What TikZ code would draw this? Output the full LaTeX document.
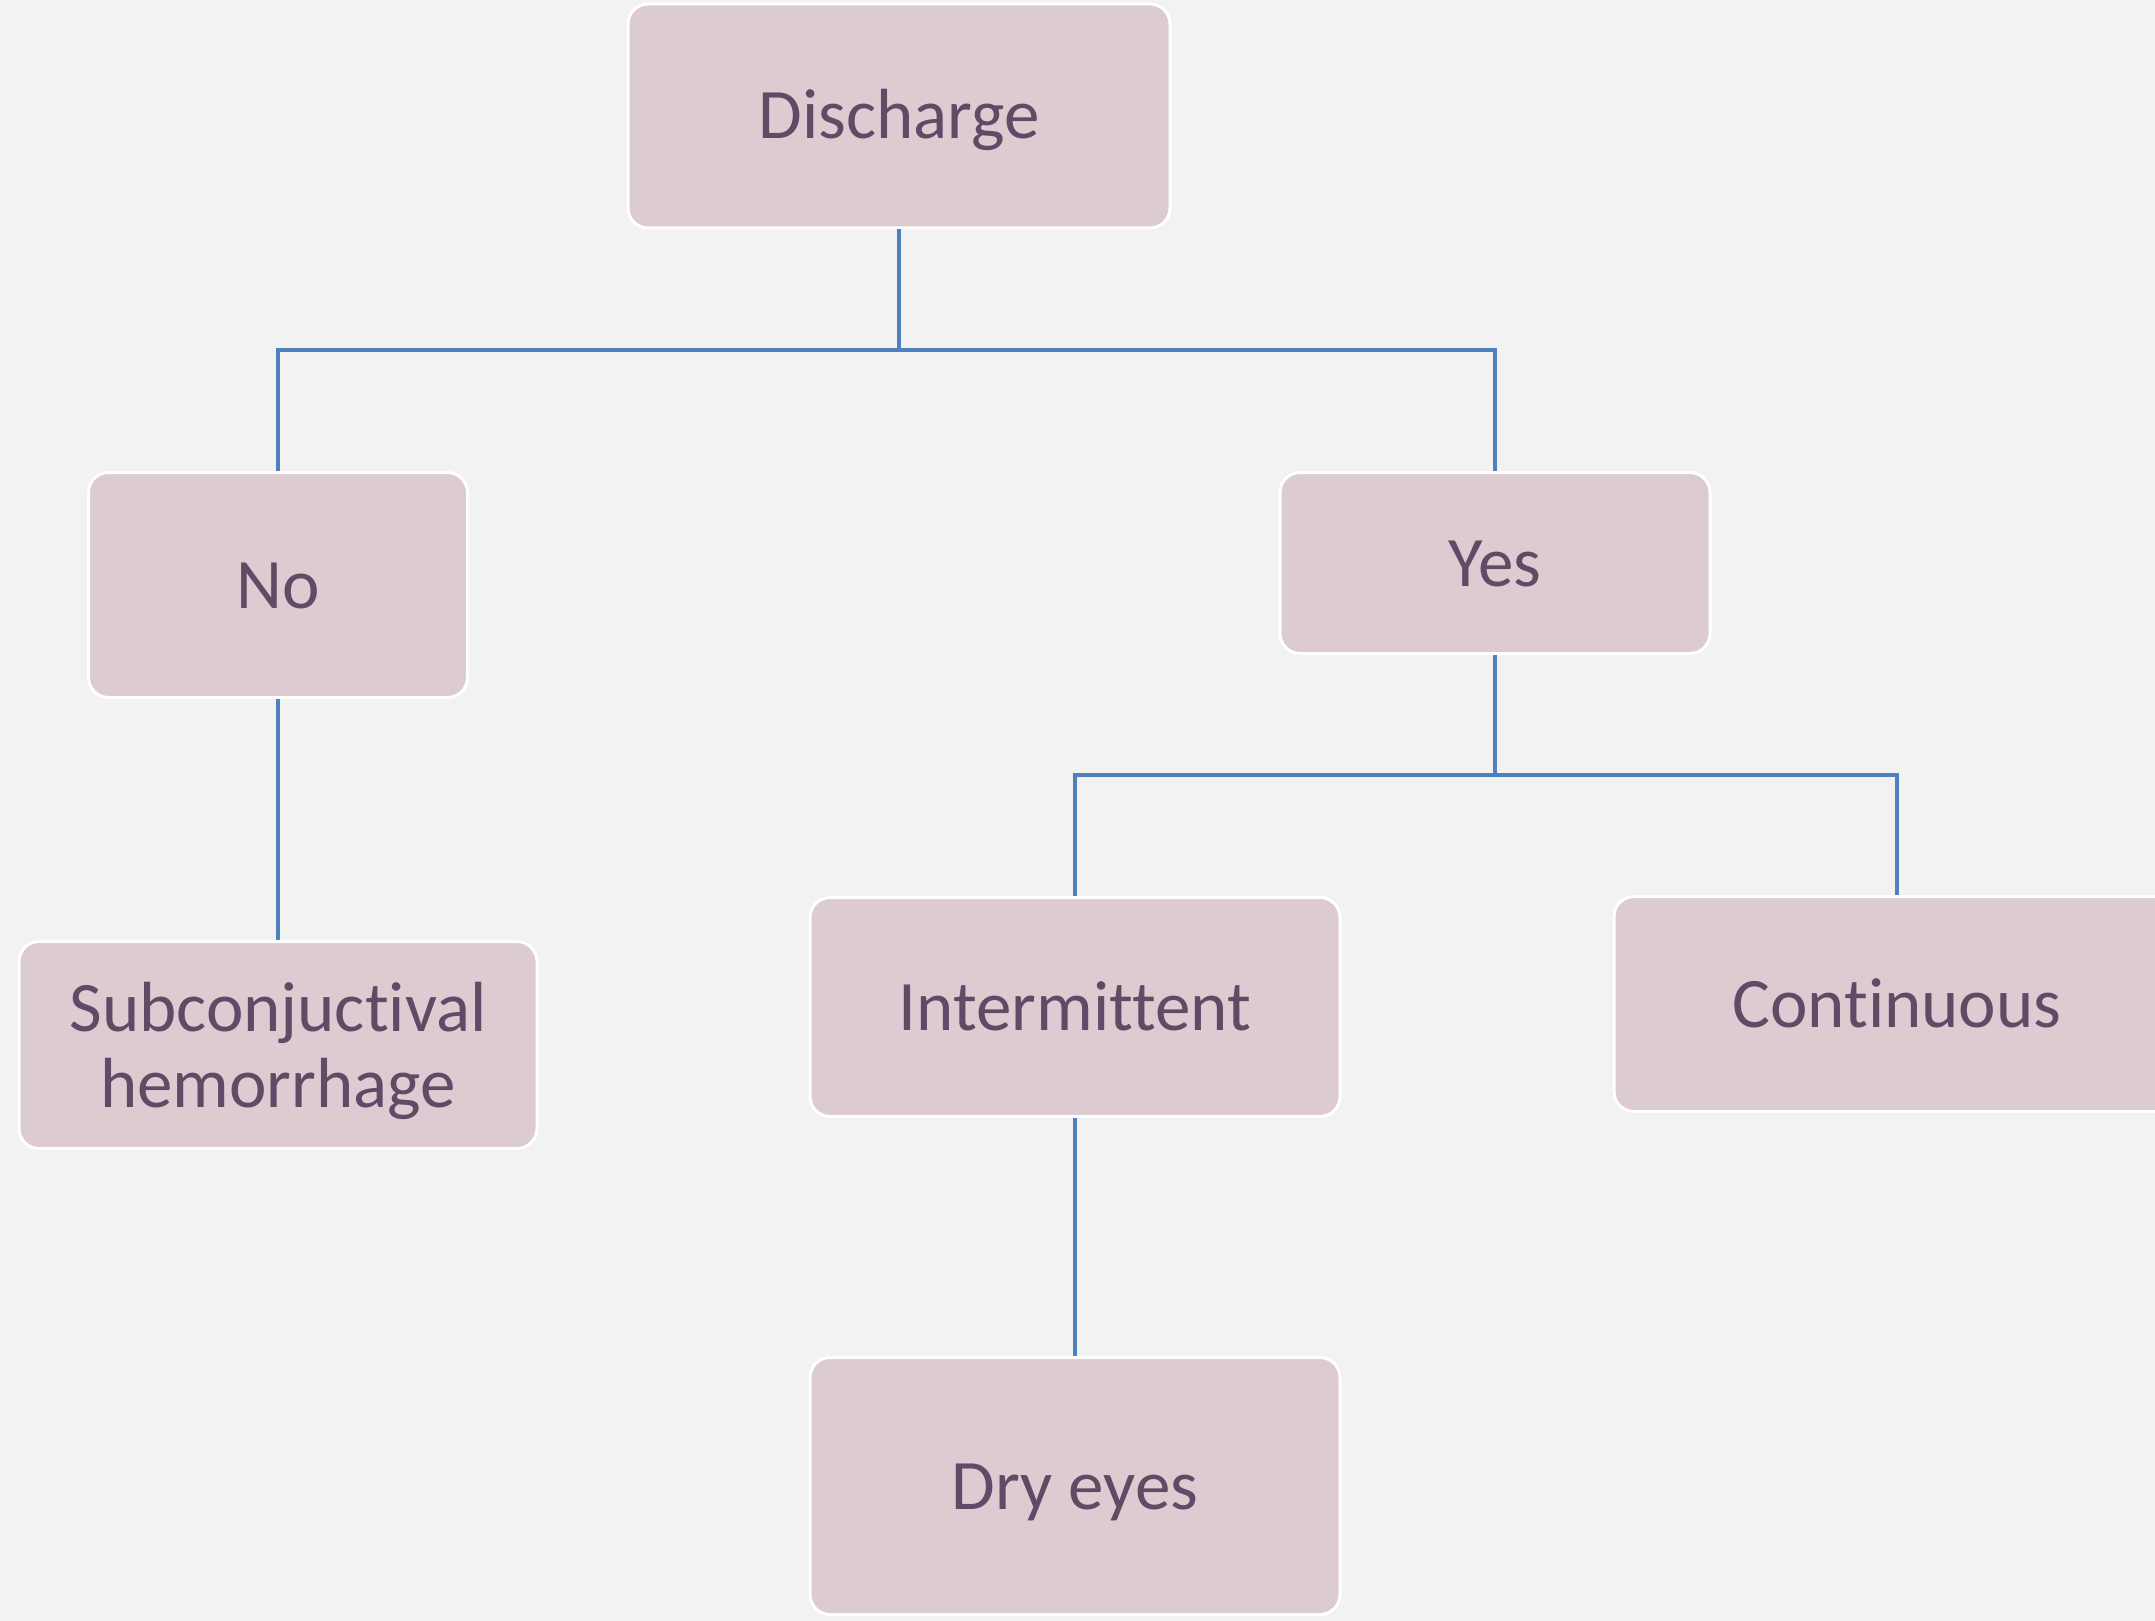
\documentclass[tikz,border=0pt]{standalone}
\usepackage{fontspec}
\setmainfont{Carlito}[Ligatures={NoCommon}, RawFeature={-liga;-clig}]
\definecolor{bg}{RGB}{242,242,242}
\definecolor{boxfill}{RGB}{221,203,210}
\definecolor{txt}{RGB}{96,74,102}
\definecolor{linkc}{RGB}{76,129,189}
\begin{document}
\begin{tikzpicture}[x=1pt,y=-1pt,
  box/.style={draw=white, line width=3pt, fill=boxfill, rounded corners=20pt,
    inner sep=0pt, text=txt, font=\fontsize{71}{76}\selectfont,
    text height=46pt, text depth=0pt},
  link/.style={draw=linkc, line width=3.6pt}]
\fill[bg] (0,0) rectangle (2155,1621);
\useasboundingbox (0,0) rectangle (2155,1621);
\clip (0,0) rectangle (2155,1621);
\node[box, minimum width=542pt, minimum height=224pt] (dis) at (899,116) {Discharge};
\node[box, minimum width=379pt, minimum height=225pt] (no) at (278,585) {No};
\node[box, minimum width=430pt, minimum height=181pt] (yes) at (1495,563) {Yes};
\node[box, minimum width=518pt, minimum height=207pt, text height=124pt] (sub) at (278,1045)
  {\begin{tabular}[b]{@{}c@{}}Subconjuctival\\hemorrhage\end{tabular}};
\node[box, minimum width=530pt, minimum height=219pt] (int) at (1075,1007) {Intermittent};
\node[box, minimum width=566pt, minimum height=215pt] (con) at (1897,1004) {Continuous};
\node[box, minimum width=530pt, minimum height=257pt] (dry) at (1075,1486) {Dry eyes};
\coordinate (j1) at (899,350);
\coordinate (j2) at (1495,775);
\draw[link] (dis.south) -- (j1);
\draw[link] (no.north) |- (j1) -| (yes.north);
\draw[link] (no.south) -- (sub.north);
\draw[link] (yes.south) -- (j2);
\draw[link] (int.north) |- (j2) -| (con.north);
\draw[link] (int.south) -- (dry.north);
\end{tikzpicture}
\end{document}
